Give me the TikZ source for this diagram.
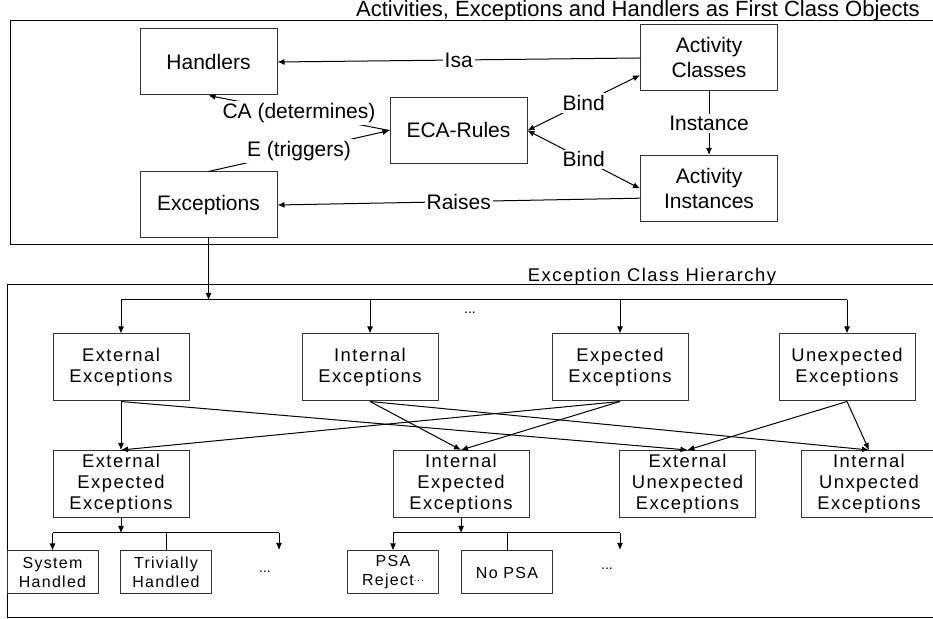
\documentclass[tikz,border=0pt]{standalone}
\usepackage{fontspec}
\setmainfont{Liberation Sans}
\newfontfamily\spacedfont[LetterSpace=8]{Liberation Sans}
\usetikzlibrary{arrows.meta}
\newcommand\smalldots{\raisebox{0.5ex}{\fontsize{5}{6}\selectfont...}}

\begin{document}
\begin{tikzpicture}[x=0.5pt,y=-0.5pt,
	every node/.style={font=\fontsize{10.5}{12.5}\selectfont},
	box/.style={draw=black!80,line width=0.5pt,minimum width=68.5pt,minimum height=33pt,align=center,inner sep=1pt},
	cls/.style={box,minimum width=68pt,minimum height=33.5pt,font=\spacedfont\fontsize{9.2}{10.6}\selectfont},
	leaf/.style={box,minimum width=45.5pt,minimum height=21.5pt,font=\spacedfont\fontsize{8}{9.5}\selectfont},
	arr/.style={-{Latex[length=3.5pt,width=3pt]},line width=0.5pt},
	biarr/.style={{Latex[length=3.5pt,width=3pt]}-{Latex[length=3.5pt,width=3pt]},line width=0.5pt},
	lbl/.style={fill=white,inner sep=1pt},
	dots/.style={font=\fontsize{7}{8}\selectfont}]
	\useasboundingbox (0,0) rectangle (933,619);
	\clip (0,0) rectangle (933,619);

	% first class objects
	\draw[line width=0.5pt] (940,21) -| (10,245) -- (940,245);
	\node[anchor=base,font=\fontsize{11}{13}\selectfont] (ttl1) at (638,17) {Activities, Exceptions and Handlers as First Class Objects};
	\node[box] (hand) at (208.5,62) {Handlers};
	\node[box] (acls) at (709,58) {Activity\\Classes};
	\node[box] (eca) at (458.5,130.5) {ECA-Rules};
	\node[box] (ainst) at (709,188.5) {Activity\\Instances};
	\node[box] (exc) at (208.5,205) {Exceptions};

	\draw[arr] (acls.west) -- node[lbl] {Isa} (hand.east);
	\draw[arr] (ainst.188) -- node[lbl] {Raises} (exc.east);
	\draw[arr] (acls.south) -- node[lbl] {Instance} (ainst.north);
	\draw[biarr] (eca.east) -- node[lbl] {Bind} (acls.194);
	\draw[biarr] (eca.east) -- node[lbl] {Bind} (ainst.west);
	\draw[arr] (eca.west) -- node[lbl] {CA (determines)} (hand.south);
	\draw[arr] (exc.north) -- node[lbl] {E (triggers)} (eca.west);

	% class hierarchy
	\draw[line width=0.5pt] (940,285) -| (7,618) -- (940,618);
	\node[anchor=base,font=\spacedfont\fontsize{9.2}{10.6}\selectfont] (ttl2) at (652,282) {Exception Class Hierarchy};
	\node[cls] (ext) at (121,367.5) {External\\Exceptions};
	\node[cls] (int) at (370,367.5) {Internal\\Exceptions};
	\node[cls] (expd) at (620,367.5) {Expected\\Exceptions};
	\node[cls] (unexp) at (847,367.5) {Unexpected\\Exceptions};
	\node[dots] (d0) at (470,313) {...};

	\node[cls] (extexp) at (121,484) {External\\Expected\\Exceptions};
	\node[cls] (intexp) at (461,484) {Internal\\Expected\\Exceptions};
	\node[cls] (extunexp) at (687.5,484) {External\\Unexpected\\Exceptions};
	\node[cls] (intunexp) at (869,484) {Internal\\Unxpected\\Exceptions};

	\coordinate (busL) at (121,300);
	\coordinate (busR) at (847,300);
	\draw[arr] (exc.south) -- (exc.south |- busL);
	\draw[line width=0.5pt] (busL) -- (busR);
	\foreach \n in {ext,int,expd,unexp}
		\draw[arr] (\n.north |- busL) -- (\n.north);

	\draw[arr] (ext.south) -- (extexp.north);
	\draw[arr] (ext.south) -- (extunexp.north);
	\draw[arr] (int.south) -- (intexp.north);
	\draw[arr] (int.south) -- (intunexp.north);
	\draw[arr] (expd.south) -- (extexp.north);
	\draw[arr] (expd.south) -- (intexp.north);
	\draw[arr] (unexp.south) -- (extunexp.north);
	\draw[arr] (unexp.south) -- (intunexp.north);

	% leaves
	\node[leaf] (sys) at (52.5,572.5) {System\\Handled};
	\node[leaf] (triv) at (166,572.5) {Trivially\\Handled};
	\node[dots] (d1) at (265,572) {...};
	\node[leaf] (psa) at (393,572.5) {PSA\\Reject\smalldots};
	\node[leaf] (nopsa) at (507,572.5) {No PSA};
	\node[dots] (d2) at (607,569) {...};

	\coordinate (j1) at (121,533);
	\coordinate (more1) at (279,550);
	\draw[arr] (extexp.south) -- (j1);
	\draw[line width=0.5pt] (sys.north |- j1) -- (more1 |- j1);
	\draw[arr] (sys.north |- j1) -- (sys.north);
	\draw[line width=0.5pt] (triv.north |- j1) -- (triv.north);
	\draw[arr] (more1 |- j1) -- (more1);

	\coordinate (j2) at (461,533);
	\coordinate (more2) at (620,550);
	\draw[arr] (intexp.south) -- (j2);
	\draw[line width=0.5pt] (psa.north |- j2) -- (more2 |- j2);
	\draw[arr] (psa.north |- j2) -- (psa.north);
	\draw[line width=0.5pt] (nopsa.north |- j2) -- (nopsa.north);
	\draw[arr] (more2 |- j2) -- (more2);
\end{tikzpicture}
\end{document}
